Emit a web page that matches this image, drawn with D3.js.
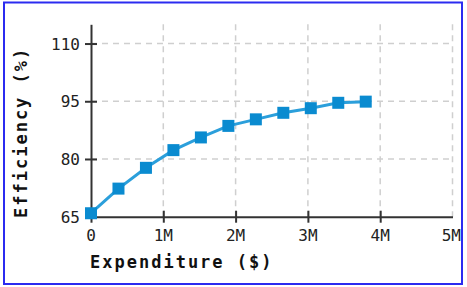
<!DOCTYPE html>
<html><head><meta charset="utf-8">
<script src="https://cdn.jsdelivr.net/npm/d3@7"></script>
<style>body{margin:0;background:#fff}svg{display:block}</style>
</head><body>
<svg id="c" width="467" height="287"></svg>
<script>
const expenditure = [0, 0.38e6, 0.76e6, 1.14e6, 1.52e6, 1.9e6, 2.28e6, 2.66e6, 3.04e6, 3.42e6, 3.8e6];
const efficiency = [65.9, 72.3, 77.7, 82.3, 85.6, 88.6, 90.3, 92.0, 93.2, 94.6, 94.9];
const xTicks = [0, 1e6, 2e6, 3e6, 4e6, 5e6];
const xTickLabels = ["0", "1M", "2M", "3M", "4M", "5M"];
const yTicks = [65, 80, 95, 110];
const xTitle = "Expenditure ($)";
const yTitle = "Efficiency (%)";

const svg = d3.select("#c");
svg.append("rect").attr("x",4).attr("y",2.5).attr("width",458).attr("height",281.5)
  .attr("fill","#fff").attr("stroke","#2b2bf0").attr("stroke-width",2);

const x = d3.scaleLinear().domain([0,5e6]).range([91,452.5]);
const y = d3.scaleLinear().domain([65,115]).range([216.7,24.3]);
const font = "'DejaVu Sans Mono', monospace";

// grid
const g = svg.append("g");
g.selectAll("line.vg").data(xTicks.slice(1)).enter().append("line")
  .attr("x1",d=>x(d)).attr("x2",d=>x(d)).attr("y1",y(115)).attr("y2",y(65))
  .attr("stroke","#cfcfcf").attr("stroke-width",1.5).attr("stroke-dasharray","6,5");
g.selectAll("line.hg").data(yTicks.slice(1)).enter().append("line")
  .attr("x1",x(0)).attr("x2",x(5e6)).attr("y1",d=>y(d)).attr("y2",d=>y(d))
  .attr("stroke","#cfcfcf").attr("stroke-width",1.5).attr("stroke-dasharray","6,5");

// axes
const xAxis = d3.axisBottom(x).tickValues(xTicks.slice(0,5)).tickSizeInner(6).tickSizeOuter(0).tickFormat("");
const xa = svg.append("g").attr("transform",`translate(0,${y(65)})`).call(xAxis);
xa.select(".domain").attr("stroke","#333").attr("stroke-width",2);
xa.selectAll(".tick line").attr("stroke","#333").attr("stroke-width",2).attr("y1",-6).attr("y2",6);

const yAxis = d3.axisLeft(y).tickValues(yTicks).tickSizeInner(6).tickSizeOuter(0).tickFormat("");
const ya = svg.append("g").attr("transform",`translate(${x(0)},0)`).call(yAxis);
ya.select(".domain").attr("stroke","#333").attr("stroke-width",2);
ya.selectAll(".tick line").attr("stroke","#333").attr("stroke-width",2).attr("x1",-6).attr("x2",6);

// tick labels
svg.selectAll("text.xt").data(xTicks).enter().append("text")
  .attr("x",(d,i)=> i===xTicks.length-1 ? 461 : x(d))
  .attr("y",240.5).attr("text-anchor",(d,i)=> i===xTicks.length-1 ? "end":"middle")
  .attr("font-family",font).attr("font-size",16).attr("fill","#222")
  .text((d,i)=>xTickLabels[i]);
svg.selectAll("text.yt").data(yTicks).enter().append("text")
  .attr("x",80).attr("y",d=>y(d)+6).attr("text-anchor","end")
  .attr("font-family",font).attr("font-size",16).attr("fill","#222")
  .text(d=>d);

// titles
svg.append("text").attr("x",90).attr("y",268).attr("font-family",font).attr("font-weight","bold")
  .attr("font-size",17).attr("letter-spacing",2).attr("fill","#111").text(xTitle);
svg.append("text").attr("transform","translate(27,218) rotate(-90)").attr("font-family",font).attr("font-weight","bold")
  .attr("font-size",17).attr("letter-spacing",2).attr("fill","#111").text(yTitle);

// line + markers
const pts = expenditure.map((e,i)=>[e,efficiency[i]]);
svg.append("path").datum(pts).attr("fill","none").attr("stroke","#2b9fdb").attr("stroke-width",3)
  .attr("d",d3.line().x(d=>x(d[0])).y(d=>y(d[1])));
svg.selectAll("rect.m").data(pts).enter().append("rect")
  .attr("x",d=>x(d[0])-6).attr("y",d=>y(d[1])-6).attr("width",12).attr("height",12)
  .attr("fill","#0a8bd0");
</script>
</body></html>
